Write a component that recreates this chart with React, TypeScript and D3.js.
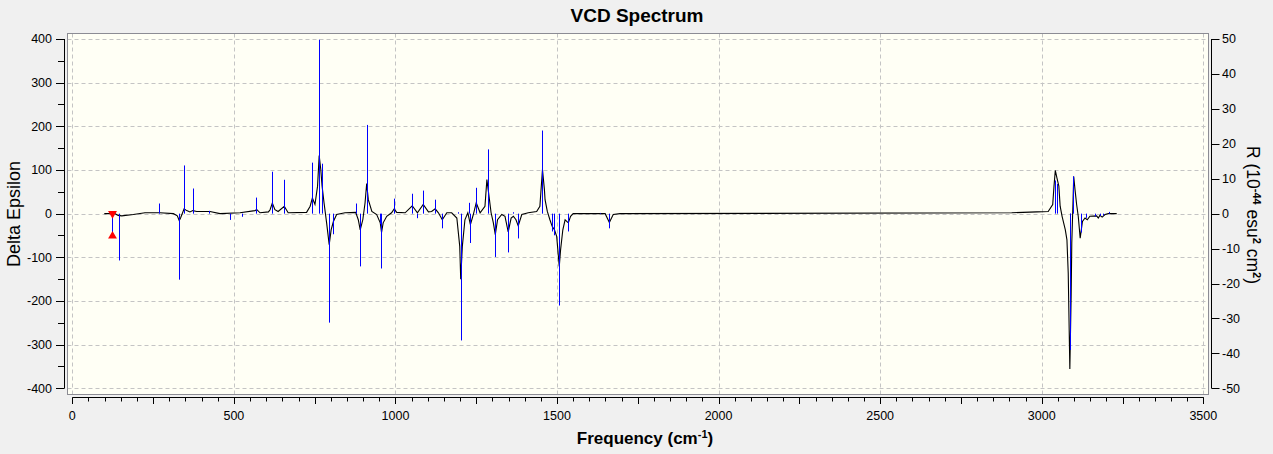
import React, { useEffect, useRef } from "react";
import * as d3 from "d3";

// axis ticks
const freqTicks = [0, 500, 1000, 1500, 2000, 2500, 3000, 3500];
const epsTicks = [400, 300, 200, 100, 0, -100, -200, -300, -400];
const rTicks = [50, 40, 30, 20, 10, 0, -10, -20, -30, -40, -50];

// broadened spectrum: [frequency cm-1, delta epsilon]
const curve: [number, number][] = [
	[99, 0], [132, 0], [142, -4], [153, -5], [189, -2], [225, 2], [271, 2], [313, 0],
	[325, -5], [331, -16], [335, -10], [346, 11], [354, 7], [364, 4], [373, 7], [385, 5],
	[426, 5], [457, 0], [519, 2], [565, 7], [571, 9], [581, 2], [607, 4], [612, 9],
	[619, 24], [627, 9], [637, 5], [656, 17], [668, 2], [725, 3], [736, 17], [743, 36],
	[751, 21], [759, 63], [764, 133], [769, 101], [773, 63], [779, 25], [787, -21],
	[795, -71], [801, -37], [808, -18], [818, -2], [844, 2], [877, 3], [885, -14],
	[891, -37], [899, -14], [906, 25], [911, 69], [916, 32], [927, 5], [942, -2],
	[953, -21], [957, -43], [962, -21], [973, -6], [988, 2], [996, 11], [1004, 3],
	[1030, 2], [1052, 18], [1068, 2], [1086, 21], [1102, 4], [1112, 5], [1123, 11],
	[1133, 2], [1145, -14], [1159, 2], [1174, 2], [1190, -10], [1199, -75], [1202, -150],
	[1207, -75], [1215, -14], [1224, 2], [1232, -25], [1241, -2], [1250, 25], [1262, 2],
	[1277, 17], [1283, 78], [1287, 55], [1296, 2], [1303, -21], [1309, -48], [1316, -14],
	[1329, -2], [1339, -6], [1349, -42], [1358, -10], [1365, -6], [1373, -14], [1380, -28],
	[1391, -2], [1411, 2], [1437, 5], [1447, 17], [1455, 101], [1461, 55], [1463, 32],
	[1470, 5], [1478, -14], [1485, -29], [1492, -37], [1499, -52], [1507, -121], [1511, -83],
	[1518, -37], [1525, -14], [1535, -21], [1542, -6], [1550, 0], [1649, 0], [1662, -20],
	[1674, -2], [1695, 0], [2907, 2], [2985, 4], [3020, 5], [3034, 21], [3038, 63],
	[3042, 99], [3047, 82], [3053, 63], [3057, 17], [3063, -6], [3073, -37], [3078, -60],
	[3082, -136], [3087, -356], [3091, -190], [3093, -67], [3097, 32], [3099, 85],
	[3103, 55], [3108, 21], [3113, -6], [3119, -56], [3126, -18], [3134, -10], [3141, -14],
	[3149, -6], [3170, -5], [3175, -10], [3180, -4], [3187, -8], [3196, -2], [3206, 0],
	[3232, 0],
];

// rotational strengths: [frequency cm-1, R in 10^-44 esu^2 cm^2]
const sticks: [number, number][] = [
	[145, -13.4], [269, 2.9], [331, -18.9], [347, 13.8], [372, 7.2], [424, 0.8],
	[489, -1.8], [526, -0.9], [569, 4.6], [619, 12.0], [656, 9.7], [743, 14.6],
	[764, 49.8], [774, 14.3], [795, -31.2], [808, -5.9], [879, 2.9], [891, -15.1],
	[913, 25.4], [951, -3.0], [955, -15.7], [997, 4.3], [1052, 5.7], [1068, -1.3],
	[1086, 6.6], [1123, 4.0], [1145, -4.2], [1195, 0.4], [1202, -36.3], [1227, 3.1],
	[1232, -8.4], [1250, 7.4], [1285, 18.4], [1309, -12.4], [1349, -11.1], [1365, 0.4],
	[1380, -7.1], [1455, 23.8], [1484, -5.1], [1492, -6.2], [1507, -26.3], [1535, -5.1],
	[1634, 0.2], [1662, -4.2], [3041, 9.5], [3047, 8.5], [3086, -33.7], [3089, -39],
	[3098, 10.7], [3120, -5.4], [3136, -1.2], [3165, -0.8], [3180, -0.6], [3190, -0.5],
	[3207, 0.5],
];

// highlighted transition
const selected: [number, number] = [124, -6.4];

const W = 1273;
const H = 454;
const font = "'Liberation Sans', Arial, sans-serif";

const App = () => {
	const svgRef = useRef<SVGSVGElement>(null);

	useEffect(() => {
		const svg = d3.select(svgRef.current);
		svg.selectAll("*").remove();

		const x = d3.scaleLinear().domain([0, 3500]).range([72.3, 1203.3]);
		const yL = d3.scaleLinear().domain([-400, 400]).range([388.3, 39]);
		const yR = d3.scaleLinear().domain([-50, 50]).range([388.3, 39]);

		const frame = { left: 67.5, top: 33.5, right: 1208.5, bottom: 394.5 };

		svg.append("rect").attr("width", W).attr("height", H).attr("fill", "#f0f0f0");

		svg
			.append("rect")
			.attr("x", frame.left)
			.attr("y", frame.top)
			.attr("width", frame.right - frame.left)
			.attr("height", frame.bottom - frame.top)
			.attr("fill", "#fffff5");

		// grid
		const grid = svg.append("g").attr("stroke", "#c4c4c4").attr("stroke-dasharray", "4,3");
		freqTicks.forEach((t) => {
			const px = Math.round(x(t)) + 0.5;
			grid.append("line").attr("x1", px).attr("x2", px).attr("y1", frame.top).attr("y2", frame.bottom);
		});
		epsTicks.forEach((t) => {
			const py = Math.round(yL(t)) + 0.5;
			grid.append("line").attr("x1", frame.left).attr("x2", frame.right).attr("y1", py).attr("y2", py);
		});

		// border
		svg
			.append("rect")
			.attr("x", frame.left)
			.attr("y", frame.top)
			.attr("width", frame.right - frame.left)
			.attr("height", frame.bottom - frame.top)
			.attr("fill", "none")
			.attr("stroke", "#8c8c94");

		// spectrum curve
		const line = d3
			.line<[number, number]>()
			.x((d) => x(d[0]))
			.y((d) => yL(d[1]));

		svg
			.append("path")
			.datum(curve)
			.attr("d", line)
			.attr("fill", "none")
			.attr("stroke", "#000")
			.attr("stroke-width", 1.1);

		// sticks
		svg
			.append("g")
			.selectAll("line")
			.data(sticks)
			.enter()
			.append("line")
			.attr("x1", (d) => Math.round(x(d[0])) + 0.5)
			.attr("x2", (d) => Math.round(x(d[0])) + 0.5)
			.attr("y1", yR(0))
			.attr("y2", (d) => yR(d[1]))
			.attr("stroke", "#0000ff")
			.attr("stroke-width", 1);

		// selected stick with markers
		const sx = Math.round(x(selected[0])) + 0.5;
		svg
			.append("line")
			.attr("x1", sx)
			.attr("x2", sx)
			.attr("y1", yR(0))
			.attr("y2", yR(selected[1]))
			.attr("stroke", "#0000ff");
		const tri = d3.symbol().type(d3.symbolTriangle).size(34);
		svg
			.append("path")
			.attr("d", tri)
			.attr("transform", `translate(${sx},${yR(0)}) rotate(180)`)
			.attr("fill", "#ff0000");
		svg
			.append("path")
			.attr("d", tri)
			.attr("transform", `translate(${sx},${yR(selected[1])})`)
			.attr("fill", "#ff0000");

		// left axis
		const la = svg.append("g").attr("stroke", "#000");
		la.append("line").attr("x1", 64.5).attr("x2", 64.5).attr("y1", yL(400)).attr("y2", yL(-400));
		d3.range(-400, 401, 50).forEach((t) => {
			const py = Math.round(yL(t)) + 0.5;
			la.append("line")
				.attr("x1", t % 100 === 0 ? 56 : 58)
				.attr("x2", 64.5)
				.attr("y1", py)
				.attr("y2", py);
		});
		svg
			.append("g")
			.selectAll("text")
			.data(epsTicks)
			.enter()
			.append("text")
			.attr("x", 52)
			.attr("y", (d) => yL(d))
			.attr("dy", "0.35em")
			.attr("text-anchor", "end")
			.style("font-family", font)
			.style("font-size", "12.5px")
			.attr("fill", "#000")
			.text((d) => d);

		// bottom axis
		const ba = svg.append("g").attr("stroke", "#000");
		ba.append("line").attr("x1", x(0)).attr("x2", x(3500) + 0.5).attr("y1", 397.5).attr("y2", 397.5);
		d3.range(0, 3501, 50).forEach((t) => {
			const px = Math.round(x(t)) + 0.5;
			ba.append("line")
				.attr("x1", px)
				.attr("x2", px)
				.attr("y1", 397.5)
				.attr("y2", t % 250 === 0 ? 404 : 401.5);
		});
		svg
			.append("g")
			.selectAll("text")
			.data(freqTicks)
			.enter()
			.append("text")
			.attr("x", (d) => x(d))
			.attr("y", 420)
			.attr("text-anchor", "middle")
			.style("font-family", font)
			.style("font-size", "12.5px")
			.attr("fill", "#000")
			.text((d) => d);

		// right axis
		const ra = svg.append("g").attr("stroke", "#000");
		ra.append("line").attr("x1", 1211.5).attr("x2", 1211.5).attr("y1", yR(50)).attr("y2", yR(-50));
		rTicks.forEach((t) => {
			const py = Math.round(yR(t)) + 0.5;
			ra.append("line").attr("x1", 1211.5).attr("x2", 1219.5).attr("y1", py).attr("y2", py);
		});
		svg
			.append("g")
			.selectAll("text")
			.data(rTicks)
			.enter()
			.append("text")
			.attr("x", 1222)
			.attr("y", (d) => yR(d))
			.attr("dy", "0.35em")
			.attr("text-anchor", "start")
			.style("font-family", font)
			.style("font-size", "12.5px")
			.attr("fill", "#000")
			.text((d) => d);

		// title
		svg
			.append("text")
			.attr("x", 637)
			.attr("y", 22)
			.attr("text-anchor", "middle")
			.style("font-family", font)
			.style("font-size", "19px")
			.style("font-weight", "700")
			.text("VCD Spectrum");

		// x label
		const xl = svg
			.append("text")
			.attr("x", 645)
			.attr("y", 444)
			.attr("text-anchor", "middle")
			.style("font-family", font)
			.style("font-size", "17px")
			.style("font-weight", "700");
		xl.append("tspan").text("Frequency (cm");
		xl.append("tspan").attr("dy", -6).style("font-size", "11px").text("-1");
		xl.append("tspan").attr("dy", 6).text(")");

		// left y label
		svg
			.append("text")
			.attr("transform", "translate(20,214) rotate(-90)")
			.attr("text-anchor", "middle")
			.style("font-family", font)
			.style("font-size", "18px")
			.text("Delta Epsilon");

		// right y label
		const rl = svg
			.append("text")
			.attr("transform", "translate(1247,215) rotate(90)")
			.attr("text-anchor", "middle")
			.style("font-family", font)
			.style("font-size", "17.5px");
		rl.append("tspan").text("R (10");
		rl.append("tspan").attr("dy", -6).style("font-size", "11px").style("font-weight", "700").text("-44");
		rl.append("tspan").attr("dy", 6).text(" esu");
		rl.append("tspan").attr("dy", -6).style("font-size", "11px").style("font-weight", "700").text("2");
		rl.append("tspan").attr("dy", 6).text(" cm");
		rl.append("tspan").attr("dy", -6).style("font-size", "11px").style("font-weight", "700").text("2");
		rl.append("tspan").attr("dy", 6).text(")");
	}, []);

	return (
		<div style={{ position: "absolute", left: 0, top: 0 }}>
			<svg ref={svgRef} width={W} height={H} style={{ display: "block" }}></svg>
		</div>
	);
};

export default App;
